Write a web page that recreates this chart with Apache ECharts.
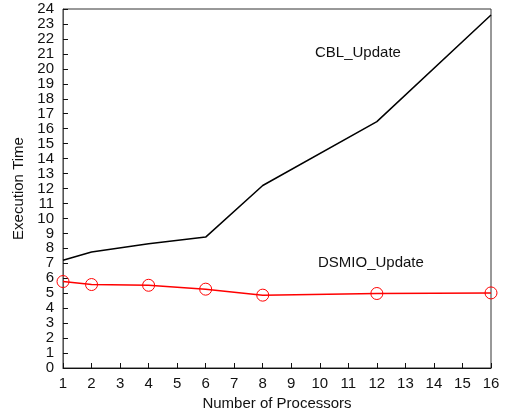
<!DOCTYPE html>
<html>
<head>
<meta charset="utf-8">
<script src="https://cdn.jsdelivr.net/npm/echarts@6/dist/echarts.min.js"></script>
<style>
  html, body { margin: 0; padding: 0; background: #fff; }
  #chart { width: 509px; height: 416px; }
</style>
</head>
<body>
<div id="chart"></div>
<script>
// processors on x, execution time on y
const procs = [1, 2, 4, 6, 8, 12, 16]
const cblUpdate = [7.2, 7.75, 8.3, 8.75, 12.2, 16.47, 23.6]
const dsmioUpdate = [5.78, 5.58, 5.53, 5.27, 4.87, 4.98, 5.02]

const font = 'Liberation Sans, Arial, sans-serif'
const chart = echarts.init(document.getElementById('chart'))

chart.setOption({
  animation: false,
  grid: { left: 63, right: 18, top: 9, bottom: 47, show: true, borderColor: '#333', borderWidth: 1 },
  xAxis: {
    type: 'value', min: 1, max: 16, interval: 1,
    name: 'Number of Processors', nameLocation: 'middle', nameGap: 28,
    nameTextStyle: { color: '#111', fontSize: 15, fontFamily: font },
    axisLine: { lineStyle: { color: '#111', width: 1 } },
    axisTick: { inside: true, length: 5, lineStyle: { color: '#111' } },
    axisLabel: { color: '#111', fontSize: 15, fontFamily: font, margin: 8 },
    splitLine: { show: false }
  },
  yAxis: {
    type: 'value', min: 0, max: 24, interval: 1,
    name: 'Execution Time', nameLocation: 'middle', nameGap: 28,
    nameTextStyle: { color: '#111', fontSize: 15, fontFamily: font },
    axisLine: { show: true, lineStyle: { color: '#555', width: 1 } },
    axisTick: { show: true, inside: true, length: 5, lineStyle: { color: '#111' } },
    axisLabel: { color: '#111', fontSize: 15, fontFamily: font, margin: 9, lineHeight: 15 },
    splitLine: { show: false }
  },
  series: [
    {
      name: 'CBL_Update', type: 'line',
      data: procs.map((p, i) => [p, cblUpdate[i]]),
      showSymbol: false, symbol: 'none',
      lineStyle: { color: '#000', width: 1.5 }
    },
    {
      name: 'DSMIO_Update', type: 'line',
      data: procs.map((p, i) => [p, dsmioUpdate[i]]),
      symbol: 'circle', symbolSize: 12,
      itemStyle: { color: 'rgba(255,255,255,0)', borderColor: '#f00', borderWidth: 1 },
      lineStyle: { color: '#f00', width: 1.5 }
    }
  ],
  graphic: [
    { type: 'text', left: 315, top: 45, style: { text: 'CBL_Update', fill: '#111', font: '15px ' + font } },
    { type: 'text', left: 318, top: 255, style: { text: 'DSMIO_Update', fill: '#111', font: '15px ' + font } }
  ]
})
</script>
</body>
</html>
